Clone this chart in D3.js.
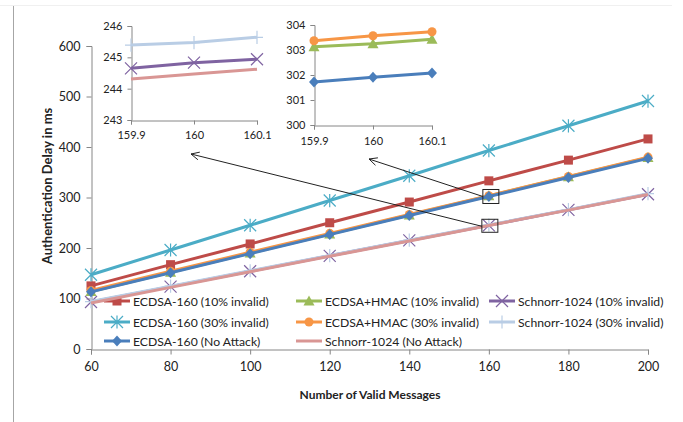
<!DOCTYPE html>
<html><head><meta charset="utf-8">
<script src="https://cdn.jsdelivr.net/npm/d3@7"></script>
<style>
body{margin:0;background:#fff;}
text{font-family:Lato,"Open Sans",sans-serif;fill:#222;}
</style></head>
<body><svg id="c" width="683" height="422"></svg>
<script>
const xValues = [60, 80, 100, 120, 140, 160, 180, 200];
const ecdsa10 = [125, 167, 208, 250, 291, 333, 374, 416];
const ecdsaHmac10 = [114, 152, 190, 227.5, 265.5, 303.3, 341, 379];
const schnorr10 = [93, 123.5, 154, 184.5, 215, 244.8, 275.5, 306.5];
const ecdsa30 = [147, 196, 245, 294, 343, 393, 442, 491];
const ecdsaHmac30 = [116, 154, 191.5, 229, 266.5, 303.6, 341.5, 380];
const schnorr30 = [94, 124.5, 155, 185, 215.5, 245.5, 276, 307.5];
const ecdsaNA = [113.2, 151, 188.8, 226.5, 264.3, 301.9, 339.7, 377.5];
const schnorrNA = [91, 122, 153, 183.5, 214, 244.5, 275, 306];
const xTicks = [60, 80, 100, 120, 140, 160, 180, 200];
const yTicks = [0, 100, 200, 300, 400, 500, 600];

// inset data
const insetX = [159.9, 160, 160.1];
const inS30 = [245.39, 245.47, 245.64];
const inS10 = [244.65, 244.83, 244.94];
const inSNA = [244.31, 244.47, 244.62];
const inS_yTicks = [243, 244, 245, 246];
const inEH30 = [303.37, 303.57, 303.73];
const inEH10 = [303.13, 303.25, 303.43];
const inENA = [301.72, 301.91, 302.08];
const inE_yTicks = [300, 301, 302, 303, 304];

const series = [
  {name:"ECDSA-160 (10% invalid)", v:ecdsa10, c:"#BE4B48", m:"square"},
  {name:"ECDSA+HMAC (10% invalid)", v:ecdsaHmac10, c:"#9BBB59", m:"triangle"},
  {name:"Schnorr-1024 (10% invalid)", v:schnorr10, c:"#7F63A1", m:"x"},
  {name:"ECDSA-160 (30% invalid)", v:ecdsa30, c:"#4BACC6", m:"star"},
  {name:"ECDSA+HMAC (30% invalid)", v:ecdsaHmac30, c:"#F79646", m:"circle"},
  {name:"Schnorr-1024 (30% invalid)", v:schnorr30, c:"#B9CDE5", m:"plus"},
  {name:"ECDSA-160 (No Attack)", v:ecdsaNA, c:"#4A7EBB", m:"diamond"},
  {name:"Schnorr-1024 (No Attack)", v:schnorrNA, c:"#D99694", m:"none"}
];

const svg = d3.select("#c");
// frame lines
svg.append("line").attr("x1",13.5).attr("x2",13.5).attr("y1",5).attr("y2",422).attr("stroke","#a6a6a6");
svg.append("line").attr("x1",0).attr("x2",672).attr("y1",5.5).attr("y2",5.5).attr("stroke","#f0f0f0");

const x = d3.scaleLinear([60,200],[91,648]);
const y = d3.scaleLinear([0,600],[349,46]);

function marker(g, type, cx, cy, color, s) {
  s = s || 1;
  if (type === "square") g.append("rect").attr("x",cx-4.5*s).attr("y",cy-4.5*s).attr("width",9*s).attr("height",9*s).attr("fill",color);
  else if (type === "triangle") g.append("path").attr("d",`M${cx},${cy-5.5*s}L${cx+5.5*s},${cy+4.5*s}L${cx-5.5*s},${cy+4.5*s}Z`).attr("fill",color);
  else if (type === "circle") g.append("circle").attr("cx",cx).attr("cy",cy).attr("r",4.5*s).attr("fill",color);
  else if (type === "diamond") g.append("path").attr("d",`M${cx},${cy-5.5*s}L${cx+5*s},${cy}L${cx},${cy+5.5*s}L${cx-5*s},${cy}Z`).attr("fill",color);
  else if (type === "x" || type === "star" || type === "plus") {
    const r = 6*s;
    let d = "";
    if (type !== "plus") d += `M${cx-r},${cy-r}L${cx+r},${cy+r}M${cx-r},${cy+r}L${cx+r},${cy-r}`;
    if (type === "star" || type === "plus") d += `M${cx},${cy-r*1.1}L${cx},${cy+r*1.1}`;
    if (type === "plus") d += `M${cx-r},${cy}L${cx+r},${cy}`;
    g.append("path").attr("d",d).attr("stroke",color).attr("stroke-width",1.2).attr("fill","none");
  }
}

// axes
const gx = svg.append("g").attr("transform","translate(0,349.5)")
  .call(d3.axisBottom(x).tickValues(xTicks).tickSize(5).tickPadding(8));
const gy = svg.append("g").attr("transform","translate(91.5,0)")
  .call(d3.axisLeft(y).tickValues(yTicks).tickSize(5).tickPadding(6));
[gx,gy].forEach(g=>{
  g.select(".domain").attr("stroke","#868686");
  g.selectAll(".tick line").attr("stroke","#868686");
  g.selectAll("text").attr("font-size",12.5).attr("font-family","Lato,sans-serif").style("fill","#222");
});

svg.append("text").attr("x",370).attr("y",399).attr("text-anchor","middle")
  .attr("font-size",12).attr("font-weight","bold").text("Number of Valid Messages");
svg.append("text").attr("transform","translate(52,186) rotate(-90)").attr("text-anchor","middle")
  .attr("font-size",13).attr("font-weight","bold").text("Authentication Delay in ms");

// legend
const legX = [104, 296, 489];
const legY = [301, 322, 341];
series.forEach((s,i)=>{
  const col = i % 3, row = Math.floor(i/3);
  const lx = legX[col], ly = legY[row];
  const g = svg.append("g");
  g.append("line").attr("x1",lx).attr("x2",lx+26).attr("y1",ly).attr("y2",ly).attr("stroke",s.c).attr("stroke-width",3);
  if (s.m !== "none") marker(g, s.m, lx+13, ly, s.c);
  g.append("text").attr("x",lx+29).attr("y",ly+4.5).attr("font-size",12.2).text(s.name);
});

// series
const line = d3.line().x((d,i)=>x(xValues[i])).y(d=>y(d));
series.forEach(s=>{
  const g = svg.append("g");
  g.append("path").datum(s.v).attr("d",line).attr("fill","none").attr("stroke",s.c).attr("stroke-width",3);
  if (s.m !== "none") s.v.forEach((v,i)=>marker(g, s.m, x(xValues[i]), y(v), s.c));
});

// zoom boxes
svg.append("rect").attr("x",x(160)-6).attr("y",y(302)-7).attr("width",16).attr("height",14).attr("fill","none").attr("stroke","#222").attr("stroke-width",1);
svg.append("rect").attr("x",x(160)-7).attr("y",y(245)-6).attr("width",16).attr("height",13).attr("fill","none").attr("stroke","#222").attr("stroke-width",1);

// insets
function inset(cfg) {
  const ix = d3.scaleLinear([159.9,160.1], cfg.xr);
  const iy = d3.scaleLinear(d3.extent(cfg.yTicks), cfg.yr);
  const g = svg.append("g");
  const ax = g.append("g").attr("transform",`translate(0,${cfg.yr[0]+0.5})`)
    .call(d3.axisBottom(ix).tickValues(insetX).tickSize(4).tickPadding(cfg.xpad).tickFormat(d=>String(+d.toFixed(1))));
  const ay = g.append("g").attr("transform",`translate(${cfg.xr[0]+0.5},0)`)
    .call(d3.axisLeft(iy).tickValues(cfg.yTicks).tickSize(4).tickPadding(5).tickFormat(d3.format("d")));
  [ax,ay].forEach(a=>{
    a.select(".domain").attr("stroke","#868686");
    a.selectAll(".tick line").attr("stroke","#868686");
    a.selectAll("text").attr("font-size",11).attr("font-family","Lato,sans-serif").style("fill","#222");
  });
  const il = d3.line().x((d,i)=>ix(insetX[i])).y(d=>iy(d));
  cfg.series.forEach(s=>{
    g.append("path").datum(s.v).attr("d",il).attr("fill","none").attr("stroke",s.c).attr("stroke-width",3);
    if (s.m !== "none") s.v.forEach((v,i)=>marker(g, s.m, ix(insetX[i]), iy(v), s.c));
  });
  return {ix, iy};
}
const inA = inset({xr:[131,257], yr:[120,26], yTicks:inS_yTicks, xpad:7, series:[
  {v:inS30, c:"#B9CDE5", m:"plus"},
  {v:inS10, c:"#7F63A1", m:"x"},
  {v:inSNA, c:"#D99694", m:"none"}
]});
const inB = inset({xr:[314,432], yr:[125,25], yTicks:inE_yTicks, xpad:8, series:[
  {v:inEH10, c:"#9BBB59", m:"triangle"},
  {v:inEH30, c:"#F79646", m:"circle"},
  {v:inENA, c:"#4A7EBB", m:"diamond"}
]});

// arrows
function arrow(x1,y1,x2,y2){
  svg.append("line").attr("x1",x1).attr("y1",y1).attr("x2",x2).attr("y2",y2).attr("stroke","#222").attr("stroke-width",1);
  const a = Math.atan2(y1-y2, x1-x2), L = 9, w = 0.45;
  svg.append("path").attr("d",`M${x2+L*Math.cos(a+w)},${y2+L*Math.sin(a+w)}L${x2},${y2}L${x2+L*Math.cos(a-w)},${y2+L*Math.sin(a-w)}`)
    .attr("fill","none").attr("stroke","#222").attr("stroke-width",1);
}
arrow(x(160)-6, y(302), inB.ix(160)-4, 159);
arrow(x(160)-7, y(245)+1, inA.ix(160)-3, 154);
</script></body></html>
